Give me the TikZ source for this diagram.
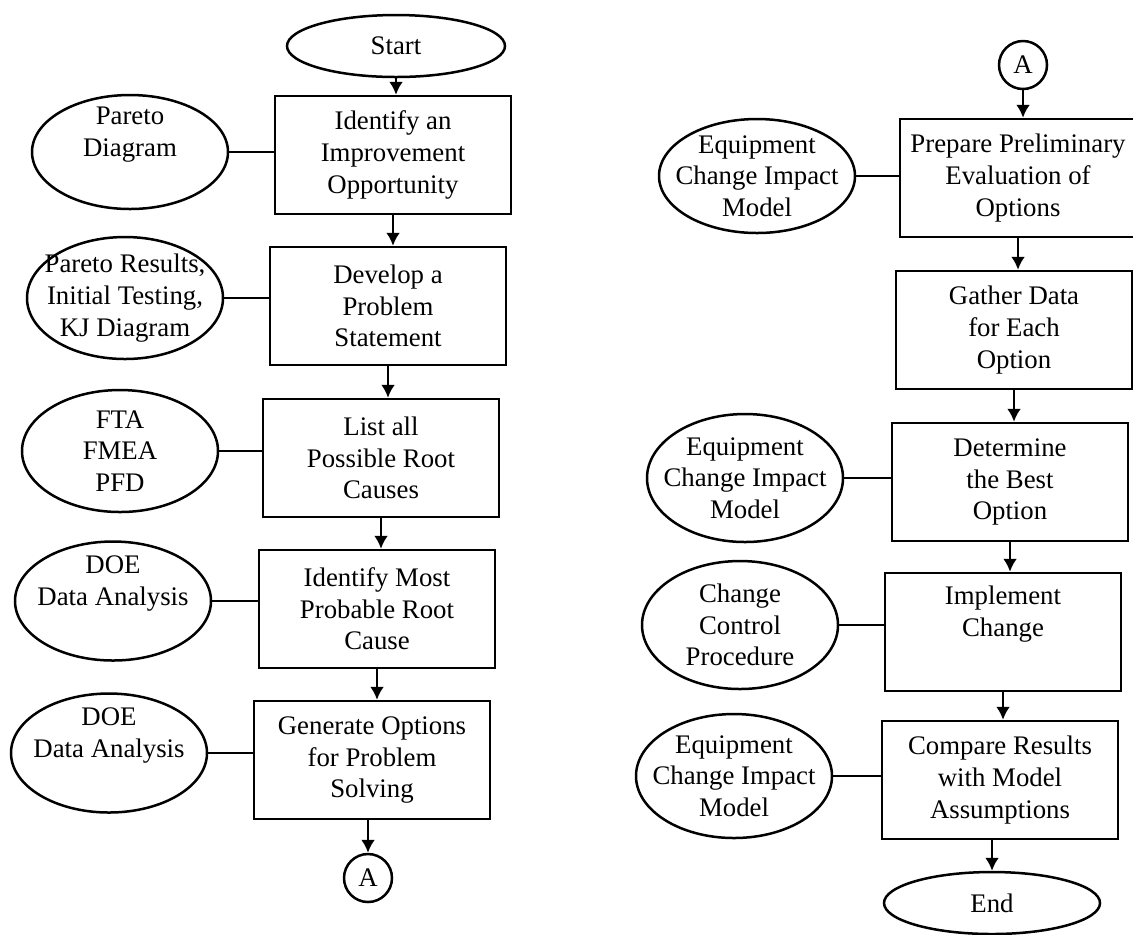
\documentclass[tikz,border=0pt]{standalone}
\usepackage{fontspec}
\setmainfont{Liberation Serif}
\usetikzlibrary{shapes.geometric,arrows.meta}
\begin{document}
\begin{tikzpicture}[
  x=0.5pt, y=-0.5pt,
  line width=1.25pt,
  font=\fontsize{13.4pt}{15.8pt}\selectfont,
  stepbox/.style={draw, rectangle, minimum width=118pt, minimum height=59pt,
                  inner sep=0pt, align=center},
  aid/.style={draw, ellipse, minimum width=98pt, minimum height=61pt,
              inner sep=-8pt, align=center},
  term/.style={draw, ellipse, minimum width=109pt, minimum height=31pt, inner sep=0pt},
  link/.style={draw, circle, minimum size=24pt, inner sep=0pt},
  flow/.style={-{Latex[length=6.5pt,width=7pt]}},
  tie/.style={draw}
]
\useasboundingbox (0,0) rectangle (1133,934);

% ---------- first half of the procedure ----------
\node[term] (start) at (396,46) {Start};
\node[stepbox] (b1) at (393,155) {Identify an\\Improvement\\Opportunity};
\node[stepbox] (b2) at (388,306) {Develop a\\Problem\\Statement};
\node[stepbox] (b3) at (381,458) {List all\\Possible Root\\Causes};
\node[stepbox] (b4) at (377,609) {Identify Most\\Probable Root\\Cause};
\node[stepbox] (b5) at (372,760) {Generate Options\\for Problem\\Solving};
\node[link] (a1) at (368,878) {A};

\node[aid, minimum height=57pt] (e1) at (130,152) {Pareto\\Diagram\\\strut};
\node[aid, minimum height=61pt] (e2) at (125,298) {Pareto Results,\\Initial Testing,\\KJ Diagram};
\node[aid, minimum height=61pt] (e3) at (120,451) {FTA\\FMEA\\PFD};
\node[aid, minimum height=59.5pt] (e4) at (113,601) {DOE\\Data Analysis\\\strut};
\node[aid, minimum height=59.5pt] (e5) at (109,753) {DOE\\Data Analysis\\\strut};

% vertical flow arrows, each dropped straight onto the next step
\draw[flow] (start.south) -- (start.south |- b1.north);
\draw[flow] (b1.south) -- (b1.south |- b2.north);
\draw[flow] (b2.south) -- (b2.south |- b3.north);
\draw[flow] (b3.south) -- (b3.south |- b4.north);
\draw[flow] (b4.south) -- (b4.south |- b5.north);
\draw[flow] (a1.north |- b5.south) -- (a1.north);

\foreach \e/\b in {e1/b1, e2/b2, e3/b3, e4/b4, e5/b5}
  \draw[tie] (\e.east) -- (\e.east -| \b.west);

% ---------- second half of the procedure ----------
\node[link] (a2) at (1023,65) {A};
\node[stepbox] (r1) at (1018,178) {Prepare Preliminary\\Evaluation of\\Options};
\node[stepbox] (r2) at (1014,330) {Gather Data\\for Each\\Option};
\node[stepbox] (r3) at (1010,482) {Determine\\the Best\\Option};
\node[stepbox] (r4) at (1003,632) {Implement\\Change\\\strut};
\node[stepbox] (r5) at (1000,780) {Compare Results\\with Model\\Assumptions};
\node[term, minimum width=108pt] (finish) at (992,903) {End};

\node[aid, minimum height=57pt] (f1) at (757,176) {Equipment\\Change Impact\\Model};
\node[aid, minimum height=64pt] (f3) at (745,478) {Equipment\\Change Impact\\Model};
\node[aid, minimum height=64pt] (f4) at (740,625) {Change\\Control\\Procedure};
\node[aid, minimum height=62pt] (f5) at (734,776) {Equipment\\Change Impact\\Model};

\draw[flow] (a2.south) -- (a2.south |- r1.north);
\draw[flow] (r1.south) -- (r1.south |- r2.north);
\draw[flow] (r2.south) -- (r2.south |- r3.north);
\draw[flow] (r3.south) -- (r3.south |- r4.north);
\draw[flow] (r4.south) -- (r4.south |- r5.north);
\draw[flow] (finish.north |- r5.south) -- (finish.north);

\foreach \e/\b in {f1/r1, f3/r3, f4/r4, f5/r5}
  \draw[tie] (\e.east) -- (\e.east -| \b.west);
\end{tikzpicture}
\end{document}
